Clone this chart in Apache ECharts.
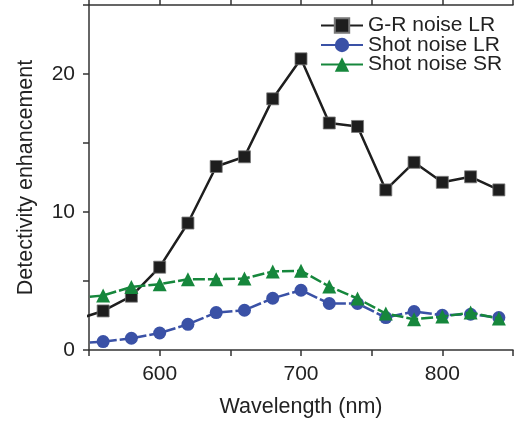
<!DOCTYPE html>
<html>
<head>
<meta charset="utf-8">
<script src="https://cdn.jsdelivr.net/npm/echarts@6/dist/echarts.min.js"></script>
<style>html,body{margin:0;padding:0;background:#fff}#c{width:516px;height:423px}</style>
</head>
<body>
<div id="c"></div>
<script>
const wavelengths = [540, 560, 580, 600, 620, 640, 660, 680, 700, 720, 740, 760, 780, 800, 820, 840];
const grNoiseLR   = [2.17, 2.83, 3.9, 6.0, 9.2, 13.3, 14.0, 18.2, 21.1, 16.45, 16.2, 11.6, 13.6, 12.15, 12.55, 11.6];
const shotNoiseLR = [0.48, 0.61, 0.85, 1.23, 1.86, 2.71, 2.88, 3.75, 4.33, 3.37, 3.37, 2.35, 2.79, 2.52, 2.59, 2.35];
const shotNoiseSR = [3.75, 3.95, 4.57, 4.77, 5.13, 5.13, 5.18, 5.69, 5.74, 4.6, 3.73, 2.64, 2.23, 2.42, 2.71, 2.28];
const seriesNames = ['G-R noise LR', 'Shot noise LR', 'Shot noise SR'];
const xLabels = [600, 700, 800];
const yLabels = [0, 10, 20];

const pair = (ys) => wavelengths.map((x, i) => [x, ys[i]]);
const FONT = 'Arial, "Liberation Sans", sans-serif';
const TXT = '#222';

const chart = echarts.init(document.getElementById('c'), null, {renderer: 'canvas'});
chart.setOption({
  animation: false,
  backgroundColor: '#fff',
  textStyle: {fontFamily: FONT},
  grid: {left: 89, right: 0, top: 5, bottom: 72},
  legend: {
    left: 315, top: 10, orient: 'vertical', itemGap: -1.5,
    itemWidth: 42, itemHeight: 18,
    textStyle: {fontFamily: FONT, fontSize: 21, color: TXT},
    lineStyle: {type: 'solid'},
    data: seriesNames
  },
  xAxis: [{
    type: 'value', min: 550, max: 850, interval: 50,
    name: 'Wavelength (nm)', nameLocation: 'middle', nameGap: 46,
    nameTextStyle: {fontFamily: FONT, fontSize: 21.5, color: TXT},
    axisLine: {lineStyle: {color: '#333', width: 1.5}},
    axisTick: {length: 6, lineStyle: {color: '#333', width: 1.5}},
    axisLabel: {fontFamily: FONT, fontSize: 21, color: TXT, margin: 14,
      formatter: v => xLabels.includes(v) ? String(v) : ''},
    splitLine: {show: false}
  }, {
    type: 'value', position: 'top', min: 550, max: 850, interval: 50,
    axisLine: {lineStyle: {color: '#333', width: 1.5}},
    axisTick: {length: 5, lineStyle: {color: '#333', width: 1.5}},
    axisLabel: {show: false}, splitLine: {show: false}
  }],
  yAxis: {
    type: 'value', min: 0, max: 25, interval: 5,
    name: 'Detectivity enhancement', nameLocation: 'middle', nameGap: 52,
    nameTextStyle: {fontFamily: FONT, fontSize: 21.5, color: TXT},
    axisLine: {show: true, lineStyle: {color: '#333', width: 1.5}},
    axisTick: {show: true, length: 6, lineStyle: {color: '#333', width: 1.5}},
    axisLabel: {fontFamily: FONT, fontSize: 21, color: TXT, margin: 14,
      formatter: v => yLabels.includes(v) ? String(v) : ''},
    splitLine: {show: false}
  },
  series: [{
    name: seriesNames[0], type: 'line', data: pair(grNoiseLR), clip: true,
    symbol: 'rect', symbolSize: 12, color: '#1e1e1e',
    lineStyle: {color: '#1e1e1e', width: 2.5},
    itemStyle: {color: '#1e1e1e', borderColor: '#777', borderWidth: 0.8}, z: 2
  }, {
    name: seriesNames[1], type: 'line', data: pair(shotNoiseLR), clip: true,
    symbol: 'circle', symbolSize: 13, color: '#3a51a6',
    lineStyle: {color: '#3a51a6', width: 2.5, type: [12, 3]},
    itemStyle: {color: '#3a51a6'}, z: 3
  }, {
    name: seriesNames[2], type: 'line', data: pair(shotNoiseSR), clip: true,
    symbol: 'triangle', symbolSize: 14, color: '#16873c',
    lineStyle: {color: '#16873c', width: 2.5, type: [12, 3]},
    itemStyle: {color: '#16873c'}, z: 4
  }]
});
</script>
</body>
</html>
